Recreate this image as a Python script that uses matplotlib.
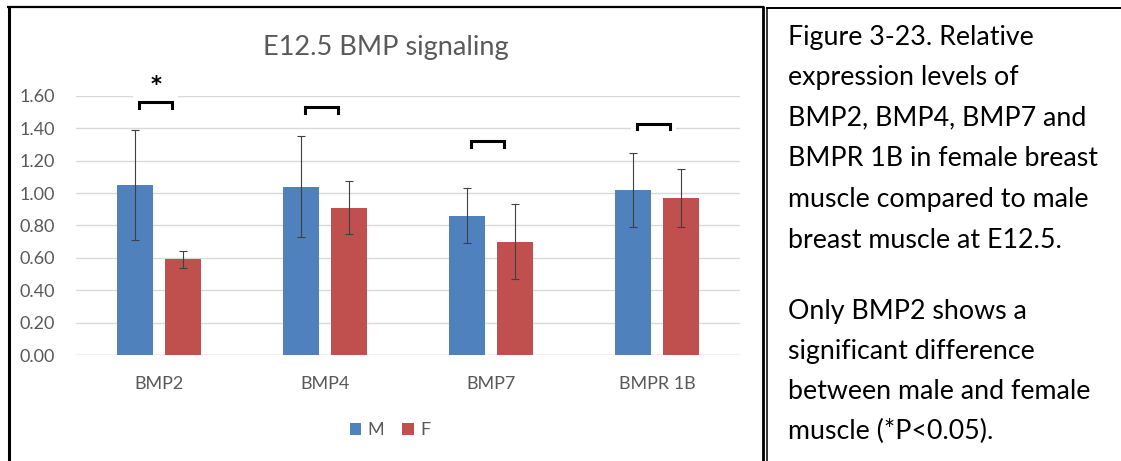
import numpy as np
import matplotlib
matplotlib.use('Agg')
import matplotlib.pyplot as plt
from matplotlib.patches import Patch, Rectangle
from matplotlib.lines import Line2D

# daten
genes = ['BMP2', 'BMP4', 'BMP7', 'BMPR 1B']
male = [1.05, 1.04, 0.86, 1.02]
male_err = [0.34, 0.31, 0.17, 0.23]
female = [0.59, 0.91, 0.70, 0.97]
female_err = [0.05, 0.165, 0.23, 0.18]
sig_height = [1.56, 1.53, 1.32, 1.43]
sig_mark = ['*', '', '', '']
yticks = [0.0, 0.2, 0.4, 0.6, 0.8, 1.0, 1.2, 1.4, 1.6]

caption_1 = ['Figure 3-23. Relative',
             'expression levels of',
             'BMP2, BMP4, BMP7 and',
             'BMPR 1B in female breast',
             'muscle compared to male',
             'breast muscle at E12.5.']
caption_2 = ['Only BMP2 shows a',
             'significant difference',
             'between male and female',
             'muscle (*P<0.05).']

BLUE = '#4F81BD'
RED = '#C0504D'
GRAY = '#595959'
GRID = '#D9D9D9'
W, H = 1121, 461

plt.rcParams['font.family'] = ['Lato', 'DejaVu Sans']

fig = plt.figure(figsize=(W / 100, H / 100), dpi=100)
fig.patch.set_facecolor('white')


def px(x, y):
    return (x / W, 1 - y / H)


ax = fig.add_axes([76 / W, (H - 355) / H, 664 / W, 259 / H])

x = np.arange(len(genes))
bw = 0.22
off = 0.145
ax.bar(x - off, male, bw, color=BLUE, zorder=2,
       yerr=male_err, error_kw=dict(ecolor='#404040', elinewidth=0.8, capsize=3, capthick=0.8, zorder=3))
ax.bar(x + off, female, bw, color=RED, zorder=2,
       yerr=female_err, error_kw=dict(ecolor='#404040', elinewidth=0.8, capsize=3, capthick=0.8, zorder=3))

ax.set_xlim(-0.5, len(genes) - 0.5)
ax.set_ylim(0, 1.6)
ax.set_yticks(yticks)
ax.set_yticklabels(['%.2f' % v for v in yticks])
ax.set_xticks(x)
ax.set_xticklabels(genes)
ax.tick_params(axis='both', length=0, colors=GRAY, labelsize=13)
ax.tick_params(axis='y', pad=15)
ax.tick_params(axis='x', pad=15)
for s in ax.spines.values():
    s.set_visible(False)
ax.set_axisbelow(True)
ax.yaxis.grid(True, color=GRID, linewidth=1.0)
ax.axhline(0, color=GRID, linewidth=1.0, zorder=0.6)

# Klammern ueber den Balkenpaaren
half = 0.1
leg = 0.035
for i, (h, m) in enumerate(zip(sig_height, sig_mark)):
    c = x[i] - 0.02
    top = h + (0.14 if m else 0.03)
    ax.add_patch(Rectangle((c - half - 0.035, h - leg - 0.03), 2 * half + 0.07, top - (h - leg - 0.03),
                           facecolor='white', edgecolor='none', zorder=1, clip_on=False))
    ax.plot([c - half, c - half, c + half, c + half], [h - leg, h, h, h - leg],
            color='black', linewidth=2.2, solid_joinstyle='miter', zorder=4, clip_on=False)
    if m:
        ax.text(c, h + 0.105, m, ha='center', va='center', fontsize=15, fontweight='bold',
                color='black', family='DejaVu Sans')

fig.text(386 / W, px(0, 48)[1], 'E12.5 BMP signaling', ha='center', va='center', fontsize=19.5, color=GRAY)

handles = [Patch(facecolor=BLUE, label='M'), Patch(facecolor=RED, label='F')]
fig.legend(handles=handles, loc='center', bbox_to_anchor=px(390, 430), ncol=2, frameon=False,
           handlelength=0.65, handleheight=0.65, handletextpad=0.35, columnspacing=1.0,
           fontsize=13, labelcolor=GRAY)

# Rahmen
def frame_line(x0, y0, x1, y1, lw, color='black'):
    a, b = px(x0, y0)
    c, d = px(x1, y1)
    fig.add_artist(Line2D([a, c], [b, d], transform=fig.transFigure, color=color, linewidth=lw,
                          solid_capstyle='butt'))

frame_line(8.5, 6, 8.5, H, 2.2)
frame_line(7, 7, 764, 7, 1.6)
frame_line(763, 6, 763, H, 2.0)
frame_line(766.7, 7.5, 766.7, H, 1.1)
frame_line(766, 8.3, W, 8.3, 1.4)

# Beschriftung rechts
for i, line in enumerate(caption_1):
    fig.text(788 / W, px(0, 37 + i * 40.6)[1], line, ha='left', va='center', fontsize=19.3, color='black')
for i, line in enumerate(caption_2):
    fig.text(788 / W, px(0, 311 + i * 40)[1], line, ha='left', va='center', fontsize=19.3, color='black')

fig.savefig('out.png', dpi=100, facecolor='white')
